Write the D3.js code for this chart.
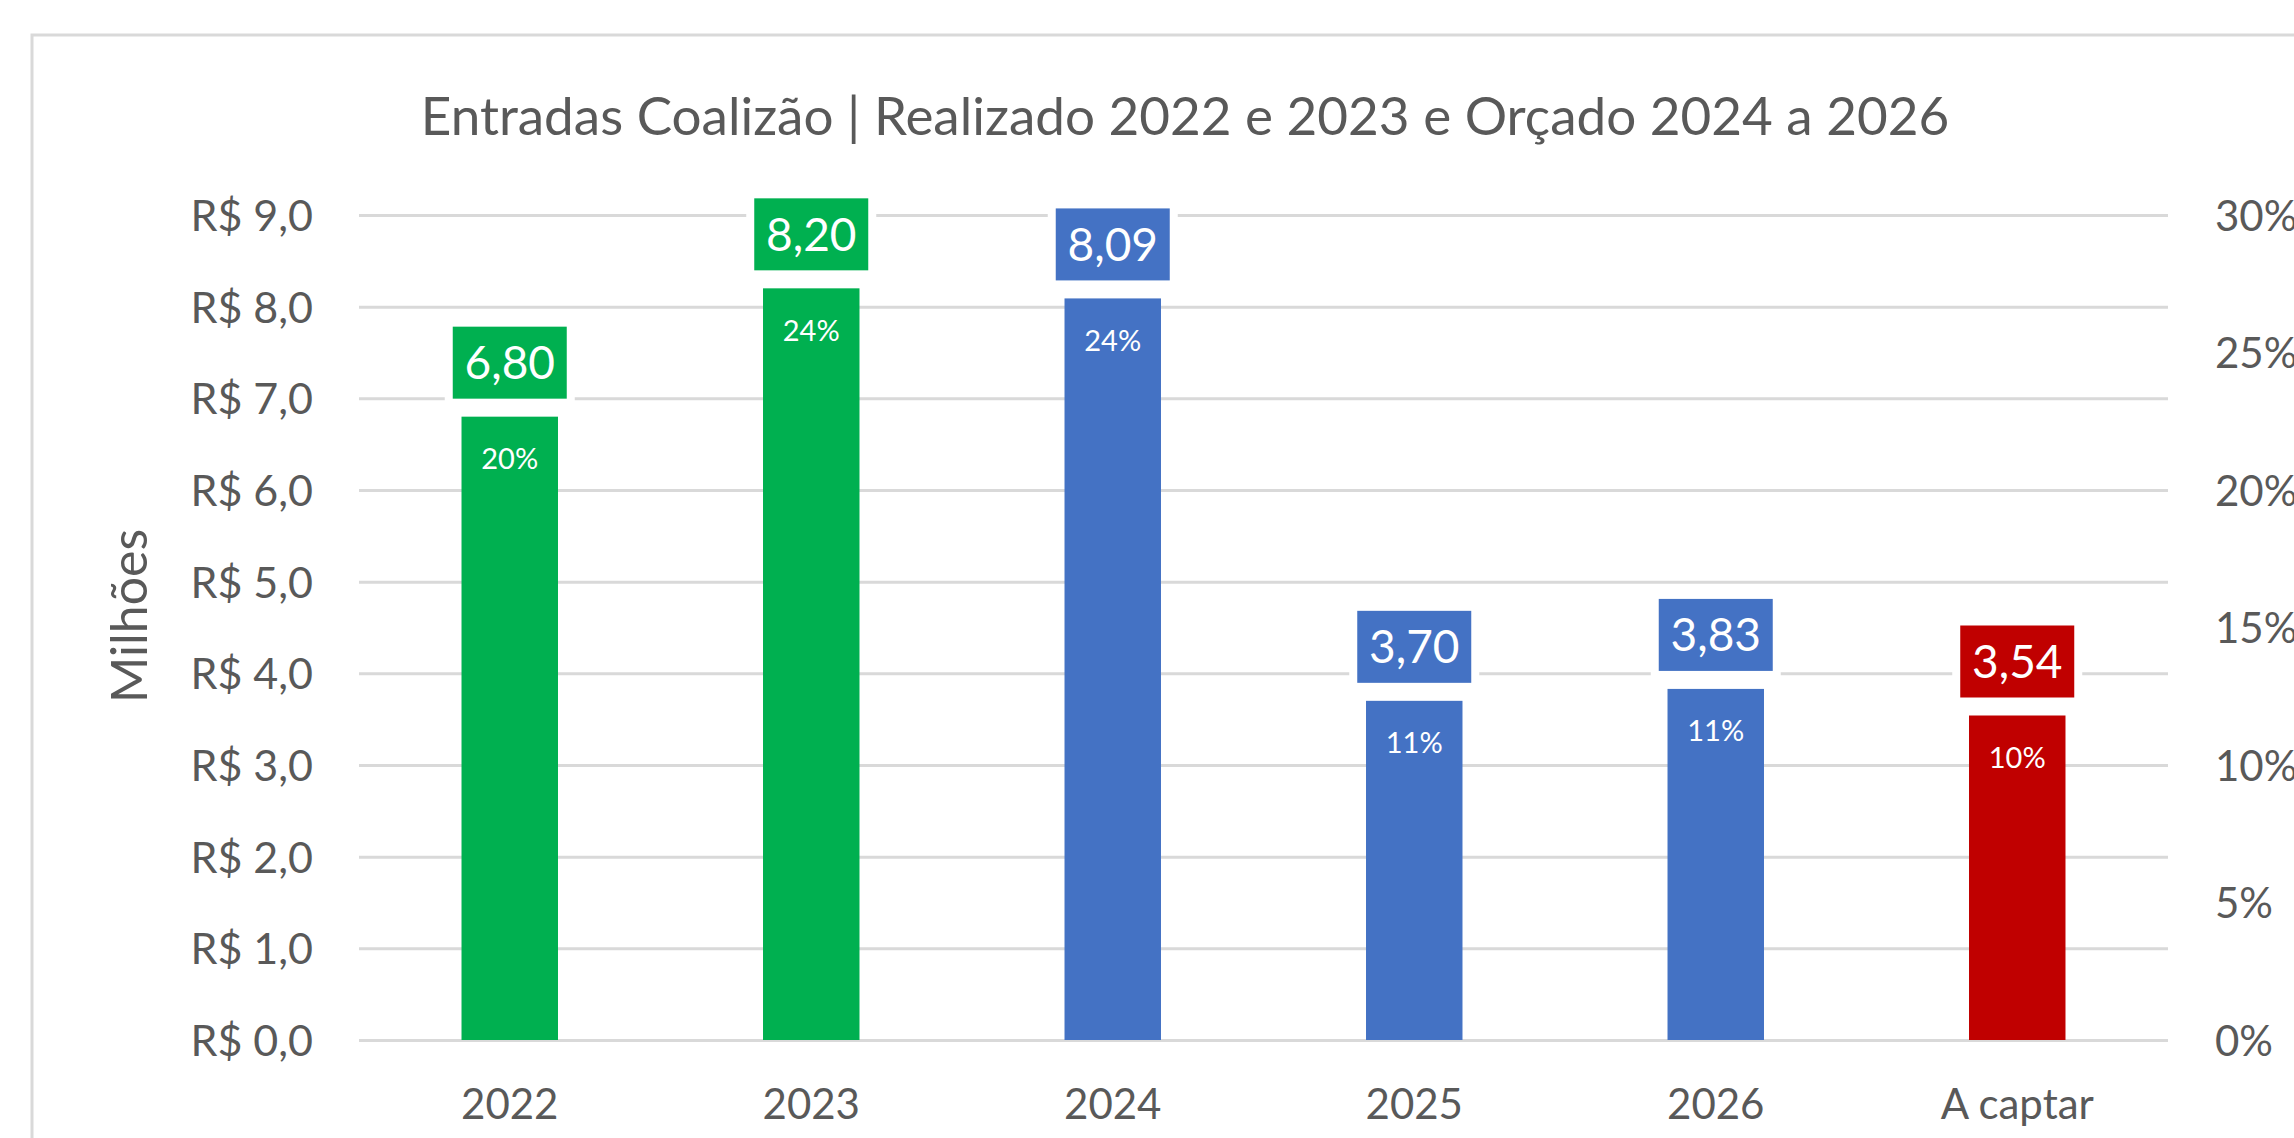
<!DOCTYPE html>
<html>
<head>
<meta charset="utf-8">
<script src="https://cdn.jsdelivr.net/npm/d3@7"></script>
<style>
  html, body { margin: 0; padding: 0; background: #ffffff; }
  svg { display: block; }
  text { font-family: Lato, "Open Sans", sans-serif; }
</style>
</head>
<body>
<svg id="chart" width="2294" height="1138"></svg>
<script>
// ---- data ----
const categories = ["2022", "2023", "2024", "2025", "2026", "A captar"];
const values = [6.80, 8.20, 8.09, 3.70, 3.83, 3.54];
const shares = [0.20, 0.24, 0.24, 0.11, 0.11, 0.10];
const barColors = ["#00B050", "#00B050", "#4472C4", "#4472C4", "#4472C4", "#C00000"];
const leftTicks = [0, 1, 2, 3, 4, 5, 6, 7, 8, 9];
const rightTicks = [0, 0.05, 0.10, 0.15, 0.20, 0.25, 0.30];
const titleText = "Entradas Coalizão | Realizado 2022 e 2023 e Orçado 2024 a 2026";
const yAxisTitle = "Milhões";

// ---- layout ----
const W = 2294, H = 1138;
const plot = { left: 359, right: 2168, top: 215, bottom: 1040 };
const textGray = "#595959";
const gridGray = "#D9D9D9";

const svg = d3.select("#chart");
svg.append("rect").attr("width", W).attr("height", H).attr("fill", "#fff");

// chart frame (extends past the right / bottom edge)
svg.append("rect")
  .attr("x", 32).attr("y", 35)
  .attr("width", W + 20).attr("height", H + 20)
  .attr("fill", "none").attr("stroke", gridGray).attr("stroke-width", 3);

const x = d3.scaleBand().domain(categories)
  .range([plot.left, plot.right]).paddingInner(0.68).paddingOuter(0.34);
const y = d3.scaleLinear().domain([0, 9]).range([plot.bottom, plot.top]);
const y2 = d3.scaleLinear().domain([0, 0.30]).range([plot.bottom, plot.top]);

const ptBR = d3.formatLocale({ decimal: ",", thousands: ".", grouping: [3], currency: ["R$ ", ""] });
const fmt1 = ptBR.format(".1f");
const fmt2 = ptBR.format(".2f");
const fmtPct = ptBR.format(".0%");

// gridlines
svg.append("g")
  .attr("transform", `translate(${plot.left},0)`)
  .call(d3.axisLeft(y).tickValues(leftTicks).tickSize(-(plot.right - plot.left)).tickFormat(""))
  .call(g => g.select(".domain").remove())
  .call(g => g.selectAll("line").attr("stroke", gridGray).attr("stroke-width", 3));

// left axis labels
svg.append("g")
  .attr("transform", `translate(${plot.left},0)`)
  .call(d3.axisLeft(y).tickValues(leftTicks).tickSize(0).tickPadding(46).tickFormat(d => "R$ " + fmt1(d)))
  .call(g => g.select(".domain").remove())
  .call(g => g.selectAll("text")
    .attr("fill", textGray).attr("font-size", 43).attr("font-family", "Lato").attr("dy", "0.36em"));

// right axis labels
svg.append("g")
  .attr("transform", `translate(${plot.right},0)`)
  .call(d3.axisRight(y2).tickValues(rightTicks).tickSize(0).tickPadding(47).tickFormat(fmtPct))
  .call(g => g.select(".domain").remove())
  .call(g => g.selectAll("text")
    .attr("fill", textGray).attr("font-size", 42).attr("font-family", "Lato").attr("dy", "0.36em"));

// bottom axis labels
svg.append("g")
  .attr("transform", `translate(0,${plot.bottom})`)
  .call(d3.axisBottom(x).tickSize(0).tickPadding(0))
  .call(g => g.select(".domain").remove())
  .call(g => g.selectAll("text")
    .attr("fill", textGray).attr("font-size", 42).attr("font-family", "Lato")
    .attr("y", 64).attr("dy", "0.36em"));

// bars
const data = categories.map((c, i) => ({ cat: c, v: values[i], p: shares[i], color: barColors[i] }));
svg.append("g").selectAll("rect").data(data).join("rect")
  .attr("x", d => x(d.cat)).attr("width", x.bandwidth())
  .attr("y", d => y(d.v)).attr("height", d => y(0) - y(d.v))
  .attr("fill", d => d.color);

// percent labels inside bar tops
svg.append("g").selectAll("text").data(data).join("text")
  .attr("x", d => x(d.cat) + x.bandwidth() / 2)
  .attr("y", d => y(d.v) + 42)
  .attr("dy", "0.36em")
  .attr("text-anchor", "middle")
  .attr("fill", "#ffffff").attr("font-size", 29).attr("font-family", "Lato")
  .text(d => fmtPct(d.p));

// value data labels (boxes above bars)
const boxW = 114, boxH = 72, boxGap = 18, halo = 8;
const lbl = svg.append("g").selectAll("g").data(data).join("g")
  .attr("transform", d => `translate(${x(d.cat) + x.bandwidth() / 2},${y(d.v) - boxGap - boxH / 2})`);
lbl.append("rect")
  .attr("x", -boxW / 2 - halo).attr("y", -boxH / 2 - halo)
  .attr("width", boxW + 2 * halo).attr("height", boxH + 2 * halo)
  .attr("fill", "#ffffff");
lbl.append("rect")
  .attr("x", -boxW / 2).attr("y", -boxH / 2)
  .attr("width", boxW).attr("height", boxH)
  .attr("fill", d => d.color);
lbl.append("text")
  .attr("text-anchor", "middle").attr("dy", "0.36em")
  .attr("fill", "#ffffff").attr("font-size", 46).attr("font-family", "Lato")
  .text(d => fmt2(d.v));

// title
svg.append("text")
  .attr("x", 1185).attr("y", 135)
  .attr("text-anchor", "middle")
  .attr("fill", textGray).attr("font-size", 53).attr("font-family", "Lato")
  .text(titleText);

// y axis title
svg.append("text")
  .attr("transform", `translate(147,616) rotate(-90)`)
  .attr("text-anchor", "middle")
  .attr("fill", textGray).attr("font-size", 50).attr("font-family", "Lato")
  .text(yAxisTitle);
</script>
</body>
</html>
